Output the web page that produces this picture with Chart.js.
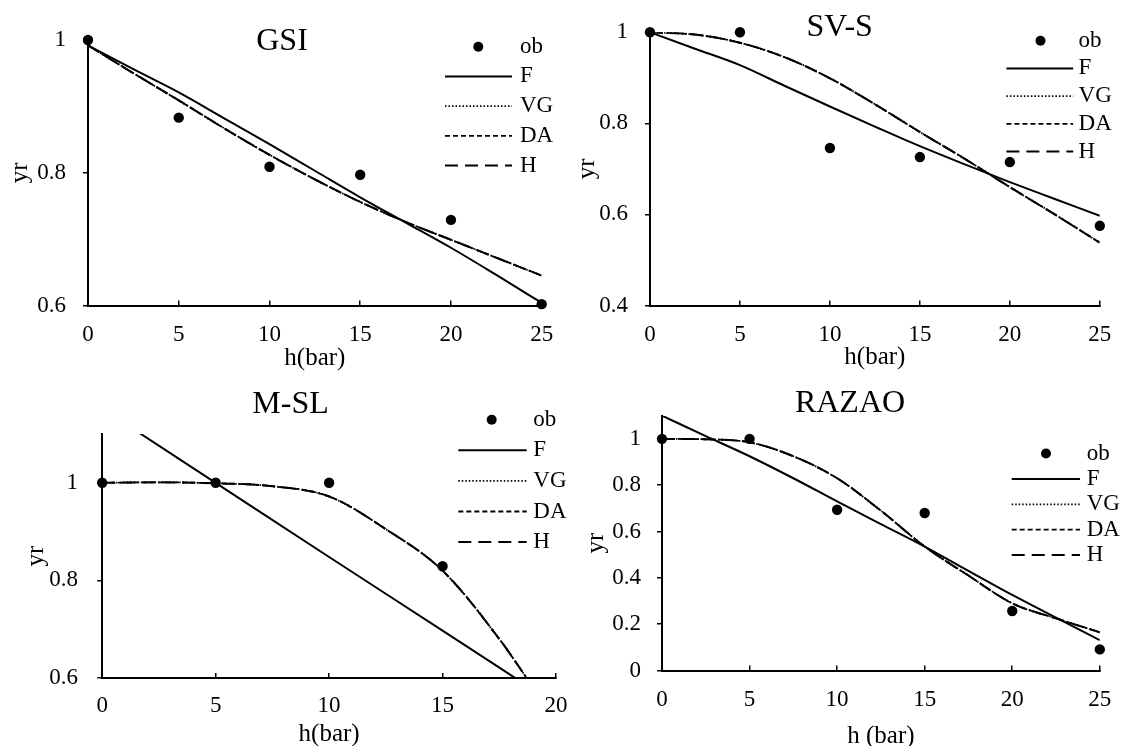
<!DOCTYPE html>
<html>
<head>
<meta charset="utf-8">
<script src="https://cdn.jsdelivr.net/npm/chart.js@4.4.0/dist/chart.umd.min.js"></script>
<style>
html, body { margin: 0; padding: 0; background: #fff; }
#wrap { position: relative; width: 1132px; height: 746px; }
#wrap canvas { position: absolute; left: 0; top: 0; }
</style>
</head>
<body>
<div id="wrap">
  <canvas id="c1" width="1132" height="746"></canvas>
  <canvas id="c2" width="1132" height="746"></canvas>
  <canvas id="c3" width="1132" height="746"></canvas>
  <canvas id="c4" width="1132" height="746"></canvas>
</div>
<script>
// shared x values
const hObs = [0, 5, 10, 15, 20, 25];
const hFit = [0, 2.5, 5, 7.5, 10, 12.5, 15, 17.5, 20, 22.5, 25];
const xTicks25 = [0, 5, 10, 15, 20, 25];

// GSI
const gsiObs = [1, 0.883, 0.809, 0.797, 0.729, 0.602];
const gsiF = [0.992, 0.956, 0.921, 0.882, 0.843, 0.803, 0.763, 0.725, 0.687, 0.646, 0.604];
const gsiModel = [0.992, 0.95, 0.909, 0.867, 0.827, 0.79, 0.756, 0.726, 0.699, 0.672, 0.645];
const gsiYTicks = [0.6, 0.8, 1];

// SV-S
const svsObs = [1, 1, 0.746, 0.726, 0.715, 0.575];
const svsF = [1, 0.964, 0.928, 0.882, 0.837, 0.793, 0.75, 0.71, 0.671, 0.634, 0.597];
const svsModel = [1, 0.995, 0.977, 0.945, 0.899, 0.842, 0.781, 0.722, 0.66, 0.6, 0.538];
const svsYTicks = [0.4, 0.6, 0.8, 1];

// M-SL
const mslHObs = [0, 5, 10, 15];
const mslObs = [1, 1, 1, 0.829];
const mslHF = [0, 5, 10, 15, 18.3];
const mslF = [1.152, 1, 0.848, 0.697, 0.597];
const mslHModel = [0, 2.5, 5, 7.5, 10, 12.5, 15, 17.5, 19];
const mslModel = [1, 1.001, 0.999, 0.993, 0.972, 0.905, 0.82, 0.68, 0.58];
const mslXTicks = [0, 5, 10, 15, 20];
const mslYTicks = [0.6, 0.8, 1];

// RAZAO
const rzObs = [1, 1, 0.694, 0.68, 0.257, 0.091];
const rzF = [1.1, 1.012, 0.925, 0.83, 0.73, 0.632, 0.535, 0.43, 0.326, 0.228, 0.131];
const rzModel = [1, 0.998, 0.985, 0.925, 0.83, 0.69, 0.535, 0.41, 0.29, 0.225, 0.165];
const rzYTicks = [0, 0.2, 0.4, 0.6, 0.8, 1];

const SERIF = '"Liberation Serif", "Times New Roman", serif';
Chart.defaults.font.family = SERIF;
Chart.defaults.color = '#000';

function pts(xs, ys) {
    return xs.map((x, i) => ({ x: x, y: ys[i] }));
}

function series(hO, obs, hF, f, hM, m) {
    const curve = { borderColor: '#000', pointRadius: 0, showLine: true, cubicInterpolationMode: 'monotone' };
    return [
        { label: 'ob', data: pts(hO, obs), showLine: false, pointRadius: 5.2, pointBackgroundColor: '#000', pointBorderWidth: 0, borderColor: '#000', clip: 8 },
        Object.assign({ label: 'F', data: pts(hF, f), borderWidth: 2 }, curve),
        Object.assign({ label: 'VG', data: pts(hM, m), borderWidth: 1.8, borderDash: [1.5, 2] }, curve),
        Object.assign({ label: 'DA', data: pts(hM, m), borderWidth: 1.8, borderDash: [5, 3] }, curve),
        Object.assign({ label: 'H', data: pts(hM, m), borderWidth: 2, borderDash: [13, 7] }, curve)
    ];
}

// title + legend inside the plot, like the original figure
const decoPlugin = {
    id: 'deco',
    afterDraw(chart, args, o) {
        const ctx = chart.ctx;
        ctx.save();
        ctx.fillStyle = '#000';
        ctx.strokeStyle = '#000';
        ctx.textBaseline = 'middle';
        ctx.textAlign = 'center';
        ctx.font = '32px ' + SERIF;
        ctx.fillText(o.title, o.tx, o.ty);
        ctx.textAlign = 'left';
        ctx.font = '23px ' + SERIF;
        chart.data.datasets.forEach((ds, i) => {
            const y = o.y0 + i * o.gap;
            if (ds.showLine === false) {
                ctx.beginPath();
                ctx.arc(o.dotX, y, 5, 0, Math.PI * 2);
                ctx.fill();
            } else {
                ctx.setLineDash(ds.borderDash || []);
                ctx.lineWidth = ds.borderWidth;
                ctx.beginPath();
                ctx.moveTo(o.x0, y);
                ctx.lineTo(o.x1, y);
                ctx.stroke();
                ctx.setLineDash([]);
            }
            ctx.fillText(ds.label, o.textX, y);
        });
        ctx.restore();
    }
};

const TICK_FONT = 23;
const TITLE_FONT = 25;
const HALF_TITLE = TITLE_FONT * 0.8 / 2;

function makeChart(id, g, deco, xMax, xTicks, yMin, yMax, yTicks, xTitle, datasets) {
    const xTl = -5; // x ticks point into the plot
    return new Chart(document.getElementById(id), {
        type: 'scatter',
        data: { datasets: datasets },
        options: {
            responsive: false,
            animation: false,
            events: [],
            layout: {
                padding: {
                    left: g.yTitleX - HALF_TITLE,
                    right: 1132 - g.R,
                    top: g.T,
                    bottom: 746 - (g.xTitleY + HALF_TITLE)
                }
            },
            plugins: {
                legend: { display: false },
                tooltip: { enabled: false },
                deco: deco
            },
            scales: {
                x: {
                    type: 'linear',
                    min: 0,
                    max: xMax,
                    afterBuildTicks: s => { s.ticks = xTicks.map(v => ({ value: v })); },
                    afterFit: s => { s.height = g.xTitleY + HALF_TITLE - g.B; },
                    border: { display: true, color: '#000', width: 2 },
                    grid: { drawOnChartArea: false, drawTicks: true, tickLength: xTl, color: '#000', lineWidth: 1.5 },
                    ticks: {
                        font: { size: TICK_FONT },
                        maxRotation: 0,
                        autoSkip: false,
                        padding: g.xLabY - g.B - xTl - TICK_FONT * 1.2 / 2,
                        callback: v => String(v)
                    },
                    title: {
                        display: true,
                        text: xTitle,
                        font: { size: TITLE_FONT, lineHeight: 0.8 },
                        padding: 0
                    }
                },
                y: {
                    type: 'linear',
                    min: yMin,
                    max: yMax,
                    afterBuildTicks: s => { s.ticks = yTicks.map(v => ({ value: v })); },
                    afterFit: s => { s.width = g.L - (g.yTitleX - HALF_TITLE); },
                    border: { display: true, color: '#000', width: 2 },
                    grid: { drawOnChartArea: false, drawTicks: true, tickLength: 5, color: '#000', lineWidth: 1.5 },
                    ticks: {
                        font: { size: TICK_FONT },
                        autoSkip: false,
                        padding: g.L - 5 - g.yLabRight,
                        callback: v => String(Math.round(v * 10) / 10)
                    },
                    title: {
                        display: true,
                        text: 'yr',
                        font: { size: TITLE_FONT, lineHeight: 0.8 },
                        padding: 0
                    }
                }
            }
        },
        plugins: [decoPlugin]
    });
}

makeChart('c1',
    { L: 88, R: 541.7, T: 40, B: 305.5, yTitleX: 20, xTitleY: 358, yLabRight: 66, xLabY: 335 },
    { title: 'GSI', tx: 282, ty: 42, x0: 445, x1: 512, dotX: 478.3, textX: 520, y0: 46.7, gap: 29.7 },
    25, xTicks25, 0.6, 1, gsiYTicks, 'h(bar)',
    series(hObs, gsiObs, hFit, gsiF, hFit, gsiModel));

makeChart('c2',
    { L: 650, R: 1103.9, T: 32.3, B: 305.5, yTitleX: 587.7, xTitleY: 357, yLabRight: 628, xLabY: 335 },
    { title: 'SV-S', tx: 839.7, ty: 27.7, x0: 1006.4, x1: 1073.2, dotX: 1040.5, textX: 1078.6, y0: 40.7, gap: 27.7 },
    25, xTicks25, 0.4, 1, svsYTicks, 'h(bar)',
    series(hObs, svsObs, hFit, svsF, hFit, svsModel));

makeChart('c3',
    { L: 102.2, R: 556, T: 434, B: 678, yTitleX: 36, xTitleY: 734.7, yLabRight: 78, xLabY: 706 },
    { title: 'M-SL', tx: 290.6, ty: 405, x0: 458.3, x1: 526.7, dotX: 491.7, textX: 533.3, y0: 419.7, gap: 30.6 },
    20, mslXTicks, 0.6, 1.1, mslYTicks, 'h(bar)',
    series(mslHObs, mslObs, mslHF, mslF, mslHModel, mslModel));

makeChart('c4',
    { L: 662, R: 1117.6, T: 415.7, B: 670.5, yTitleX: 596.7, xTitleY: 736, yLabRight: 641, xLabY: 700 },
    { title: 'RAZAO', tx: 850, ty: 404, x0: 1011.7, x1: 1080, dotX: 1046, textX: 1086.7, y0: 453.5, gap: 25.4 },
    25, xTicks25, 0, 1.1, rzYTicks, 'h (bar)',
    series(hObs, rzObs, hFit, rzF, hFit, rzModel));
</script>
</body>
</html>
